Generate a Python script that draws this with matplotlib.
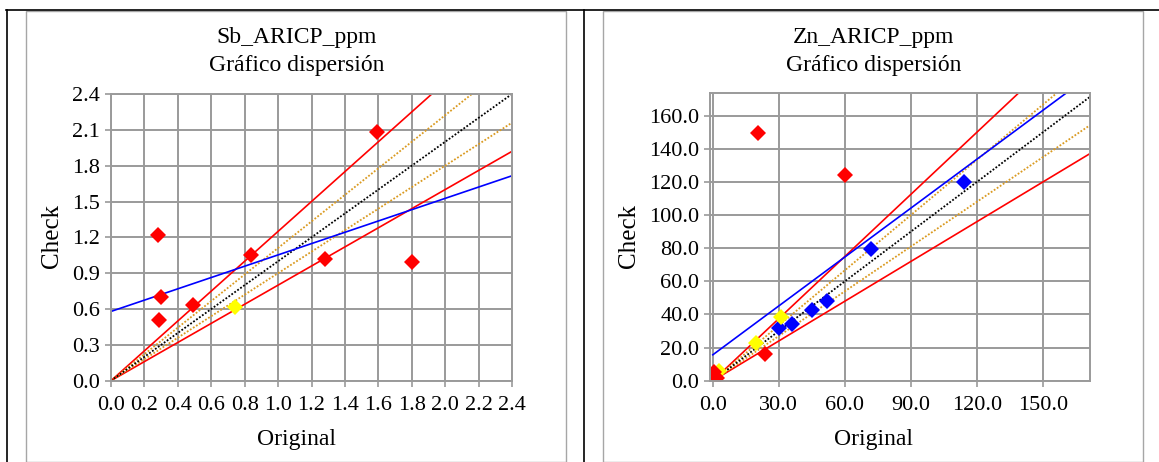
import numpy as np
import matplotlib.pyplot as plt
from matplotlib.lines import Line2D
from matplotlib.patches import Rectangle

plt.rcParams["font.family"] = ["Liberation Serif", "DejaVu Serif"]

W, H = 1159, 462

# Sb_ARICP_ppm points (Original, Check)
sb_red_x = [0.28, 0.30, 0.29, 0.49, 0.84, 1.28, 1.59, 1.80]
sb_red_y = [1.22, 0.70, 0.51, 0.63, 1.05, 1.02, 2.08, 0.99]
sb_yel_x = [0.74]
sb_yel_y = [0.62]
sb_blue_x = []
sb_blue_y = []

# Zn_ARICP_ppm points (Original, Check)
zn_red_x = [20.4, 60.1, 23.8, 0.5, 1.7]
zn_red_y = [149.8, 124.2, 16.1, 5.4, 1.4]
zn_yel_x = [2.9, 19.4, 31.0]
zn_yel_y = [6.0, 23.0, 38.3]
zn_blue_x = [30.2, 36.1, 45.1, 51.9, 71.9, 114.3]
zn_blue_y = [31.6, 34.2, 42.7, 48.1, 79.3, 120.0]

# tolerance envelopes
outer_lim = 0.8   # red
inner_lim = 0.9   # orange

sb_xticks = np.round(np.arange(0, 2.41, 0.2), 1)
sb_yticks = np.round(np.arange(0, 2.41, 0.3), 1)
zn_xticks = [0, 30, 60, 90, 120, 150]
zn_yticks = [0, 20, 40, 60, 80, 100, 120, 140, 160]

GRID = "#9A9A9A"
ORANGE = "#DA9A20"


def fx(px):
    return px / W


def fy(py):
    return 1 - py / H


def scatter_panel(ax, red, yel, blue, xlim, ylim, xticks, yticks, fmt):
    xs = np.concatenate([red[0], yel[0], blue[0]])
    ys = np.concatenate([red[1], yel[1], blue[1]])
    slope, icpt = np.polyfit(xs, ys, 1)
    xl = np.array([0, xlim[1]])

    ax.plot(xl, xl / outer_lim, color="red", lw=1.2)
    ax.plot(xl, xl * outer_lim, color="red", lw=1.2)
    ax.plot(xl, xl / inner_lim, color=ORANGE, lw=1.3, ls=(0, (1, 1)))
    ax.plot(xl, xl * inner_lim, color=ORANGE, lw=1.3, ls=(0, (1, 1)))
    ax.plot(xl, xl, color="black", lw=1.3, ls=(0, (1, 1)))
    ax.plot(xl, icpt + slope * xl, color="blue", lw=1.2)

    mk = dict(marker="D", ms=7.8, ls="none", mew=0)
    ax.plot(blue[0], blue[1], color="blue", **mk)
    ax.plot(yel[0], yel[1], color="yellow", **mk)
    ax.plot(red[0], red[1], color="red", **mk)

    ax.set_xlim(*xlim)
    ax.set_ylim(*ylim)
    ax.set_xticks(xticks)
    ax.set_yticks(yticks)
    ax.set_xticklabels([fmt.format(v) for v in xticks])
    ax.set_yticklabels([fmt.format(v) for v in yticks])
    ax.grid(True, color=GRID, lw=1.4)
    ax.set_axisbelow(True)
    for s in ax.spines.values():
        s.set_color(GRID)
        s.set_linewidth(1.4)
    ax.tick_params(colors=GRID, labelcolor="black", length=4, width=1.2,
                   labelsize=16)
    ax.tick_params(axis="x", pad=7)
    ax.tick_params(axis="y", pad=4)


fig = plt.figure(figsize=(W / 100, H / 100), dpi=100)

ax1 = fig.add_axes([fx(111), fy(380.7), fx(512) - fx(111), fy(94) - fy(380.7)])
scatter_panel(ax1, (sb_red_x, sb_red_y), (sb_yel_x, sb_yel_y), (sb_blue_x, sb_blue_y),
              (0, 2.4), (0, 2.4), sb_xticks, sb_yticks, "{:.1f}")

ax2 = fig.add_axes([fx(710.4), fy(380.7), fx(1089.6) - fx(710.4), fy(93.3) - fy(380.7)])
scatter_panel(ax2, (zn_red_x, zn_red_y), (zn_yel_x, zn_yel_y), (zn_blue_x, zn_blue_y),
              (-1.1, 171.2), (0, 173.5), zn_xticks, zn_yticks, "{:.1f}")

# titles and axis labels
for cx, name, lx in [(296.5, "Sb_ARICP_ppm", 52), (874, "Zn_ARICP_ppm", 629)]:
    fig.text(fx(cx), fy(38), name, ha="center", va="center", fontsize=17)
    fig.text(fx(cx), fy(65), "Gráfico dispersión", ha="center", va="center", fontsize=17)
    fig.text(fx(cx), fy(440), "Original", ha="center", va="center", fontsize=17)
    fig.text(fx(lx), fy(236), "Check", ha="center", va="center", fontsize=18, rotation=90)

# chart frames and table lines
for x0, x1 in [(25.5, 566), (602.5, 1143)]:
    fig.add_artist(Rectangle((fx(x0), fy(461.5)), fx(x1) - fx(x0), fy(11) - fy(461.5),
                             transform=fig.transFigure, fill=False, ec="#A6A6A6", lw=1.0))
fig.add_artist(Line2D([fx(6), 1], [fy(9.8), fy(9.8)], color="black", lw=1.2,
                      transform=fig.transFigure))
for x in [6.8, 583.5]:
    fig.add_artist(Line2D([fx(x), fx(x)], [fy(9.8), 0], color="black", lw=1.2,
                          transform=fig.transFigure))

fig.savefig("out.png", dpi=100)
